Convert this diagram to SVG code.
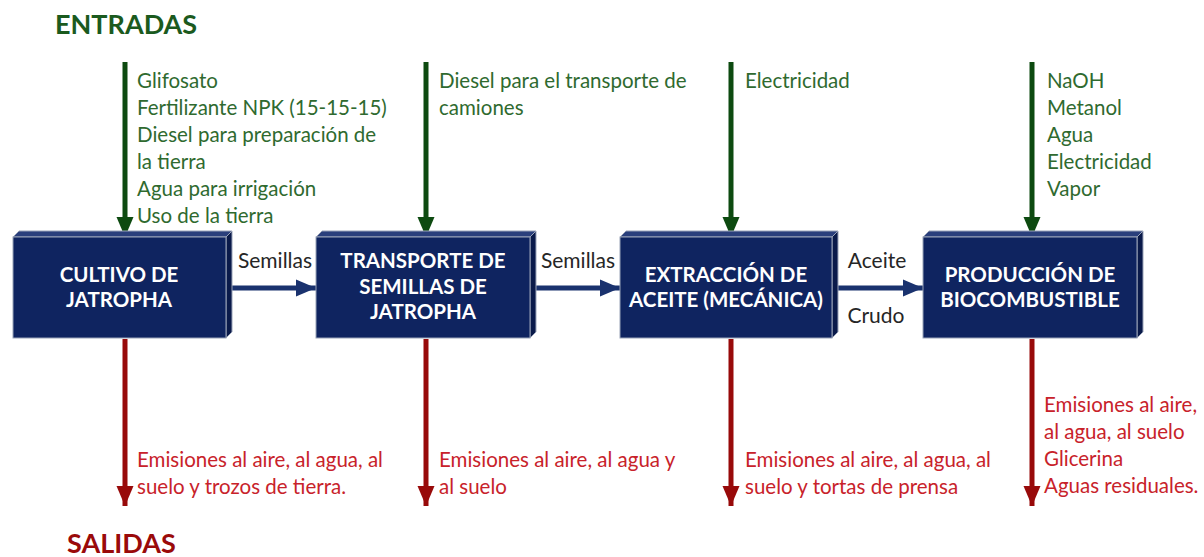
<svg xmlns="http://www.w3.org/2000/svg" width="1204" height="557" viewBox="0 0 1204 557">
<style>
.t{font-family:Lato,"Open Sans","Liberation Sans",sans-serif;font-size:20.5px}
.in{fill:#2f6a2f}
.out{fill:#c8222a}
.lbl{fill:#262626;font-size:21px}
.bx{font-family:Lato,"Open Sans","Liberation Sans",sans-serif;font-size:20.5px;font-weight:bold;fill:#ffffff;text-anchor:middle}
.title{font-family:Lato,"Open Sans","Liberation Sans",sans-serif;font-size:27px;font-weight:bold}
.front{fill:#0f2460;stroke:#9aa3b8;stroke-width:1}
.top{fill:#2a3f7c;stroke:#9aa3b8;stroke-width:1}
.side{fill:#0a1a4a;stroke:#9aa3b8;stroke-width:1}
.gline{stroke:#0d4a10;stroke-width:5;fill:none}
.rline{stroke:#980a0a;stroke-width:5;fill:none}
.bline{stroke:#1a326e;stroke-width:5;fill:none}
</style>
<defs>
<marker id="ag" markerWidth="4" markerHeight="4" refX="4" refY="2" orient="auto" markerUnits="strokeWidth" viewBox="0 0 4 4"><path d="M0,0.3 L4,2 L0,3.7 Z" fill="#0d4a10"/></marker>
<marker id="ar" markerWidth="4" markerHeight="4" refX="4" refY="2" orient="auto" markerUnits="strokeWidth" viewBox="0 0 4 4"><path d="M0,0.3 L4,2 L0,3.7 Z" fill="#980a0a"/></marker>
<marker id="ab" markerWidth="4" markerHeight="4" refX="4" refY="2" orient="auto" markerUnits="strokeWidth" viewBox="0 0 4 4"><path d="M0,0.3 L4,2 L0,3.7 Z" fill="#1a326e"/></marker>
</defs>
<rect width="1204" height="557" fill="#ffffff"/>
<text class="title" x="55" y="34" fill="#1b5a1e">ENTRADAS</text>
<text class="title" x="67" y="553" fill="#9a0a0a">SALIDAS</text>
<g id="connectors">
<line class="gline" x1="125" y1="62" x2="125" y2="237" marker-end="url(#ag)"/>
<line class="gline" x1="426" y1="62" x2="426" y2="237" marker-end="url(#ag)"/>
<line class="gline" x1="731" y1="62" x2="731" y2="237" marker-end="url(#ag)"/>
<line class="gline" x1="1032" y1="62" x2="1032" y2="237" marker-end="url(#ag)"/>
<line class="rline" x1="125" y1="339" x2="125" y2="506" marker-end="url(#ar)"/>
<line class="rline" x1="426" y1="339" x2="426" y2="506" marker-end="url(#ar)"/>
<line class="rline" x1="731" y1="339" x2="731" y2="506" marker-end="url(#ar)"/>
<line class="rline" x1="1032" y1="339" x2="1032" y2="506" marker-end="url(#ar)"/>
<line class="bline" x1="231" y1="288" x2="316" y2="288" marker-end="url(#ab)"/>
<line class="bline" x1="535" y1="288" x2="620" y2="288" marker-end="url(#ab)"/>
<line class="bline" x1="838" y1="288" x2="923" y2="288" marker-end="url(#ab)"/>
<text class="t lbl" x="275" y="268" text-anchor="middle">Semillas</text>
<text class="t lbl" x="578" y="268" text-anchor="middle">Semillas</text>
<text class="t lbl" x="877" y="268" text-anchor="middle">Aceite</text>
<text class="t lbl" x="876" y="323" text-anchor="middle">Crudo</text>
</g>
<g id="inputs">
<text class="t in" x="137" y="88">Glifosato</text>
<text class="t in" x="137" y="115">Fertilizante NPK (15-15-15)</text>
<text class="t in" x="137" y="142">Diesel para preparación de</text>
<text class="t in" x="137" y="169">la tierra</text>
<text class="t in" x="137" y="196">Agua para irrigación</text>
<text class="t in" x="137" y="223">Uso de la tierra</text>
<text class="t in" x="439" y="88">Diesel para el transporte de</text>
<text class="t in" x="439" y="115">camiones</text>
<text class="t in" x="745" y="88">Electricidad</text>
<text class="t in" x="1047" y="88">NaOH</text>
<text class="t in" x="1047" y="115">Metanol</text>
<text class="t in" x="1047" y="142">Agua</text>
<text class="t in" x="1047" y="169">Electricidad</text>
<text class="t in" x="1047" y="196">Vapor</text>
</g>
<g id="outputs">
<text class="t out" x="137" y="467">Emisiones al aire, al agua, al</text>
<text class="t out" x="137" y="494">suelo y trozos de tierra.</text>
<text class="t out" x="439" y="467">Emisiones al aire, al agua y</text>
<text class="t out" x="439" y="494">al suelo</text>
<text class="t out" x="745" y="467">Emisiones al aire, al agua, al</text>
<text class="t out" x="745" y="494">suelo y tortas de prensa</text>
<text class="t out" x="1044" y="412">Emisiones al aire,</text>
<text class="t out" x="1044" y="439">al agua, al suelo</text>
<text class="t out" x="1044" y="466">Glicerina</text>
<text class="t out" x="1044" y="493">Aguas residuales.</text>
</g>
<g id="cultivo">
<polygon class="top" points="13,237 19,231 232,231 226,237"/>
<polygon class="side" points="226,237 232,231 232,332 226,338"/>
<rect class="front" x="13" y="237" width="213" height="101"/>
<text class="bx" x="119" y="282">CULTIVO DE</text>
<text class="bx" x="119" y="307">JATROPHA</text>
</g>
<g id="transporte">
<polygon class="top" points="316,237 322,231 536,231 530,237"/>
<polygon class="side" points="530,237 536,231 536,332 530,338"/>
<rect class="front" x="316" y="237" width="214" height="101"/>
<text class="bx" x="423" y="268">TRANSPORTE DE</text>
<text class="bx" x="423" y="294">SEMILLAS DE</text>
<text class="bx" x="423" y="319">JATROPHA</text>
</g>
<g id="extraccion">
<polygon class="top" points="620,237 626,231 838,231 832,237"/>
<polygon class="side" points="832,237 838,231 838,332 832,338"/>
<rect class="front" x="620" y="237" width="212" height="101"/>
<text class="bx" x="726" y="282">EXTRACCIÓN DE</text>
<text class="bx" x="726" y="307">ACEITE (MECÁNICA)</text>
</g>
<g id="produccion">
<polygon class="top" points="923,237 929,231 1143,231 1137,237"/>
<polygon class="side" points="1137,237 1143,231 1143,332 1137,338"/>
<rect class="front" x="923" y="237" width="214" height="101"/>
<text class="bx" x="1030" y="282">PRODUCCIÓN DE</text>
<text class="bx" x="1030" y="307">BIOCOMBUSTIBLE</text>
</g>
</svg>
